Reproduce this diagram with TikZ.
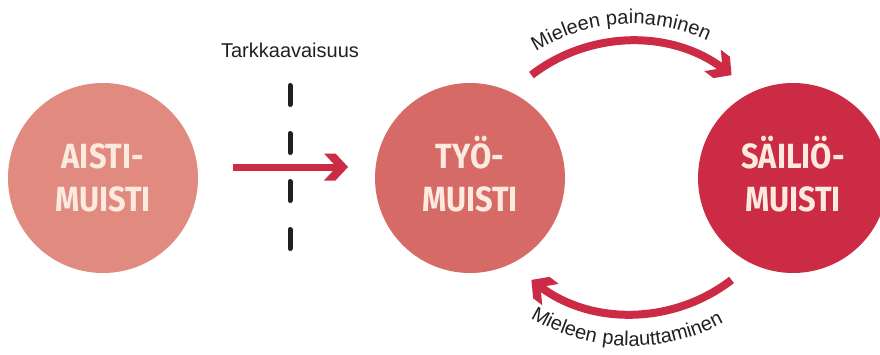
\documentclass[tikz,border=0pt]{standalone}
\usepackage{fontspec}
\setmainfont{Liberation Sans}
\newfontfamily\circfont{Fira Sans}[FakeStretch=0.88]
\newfontfamily\spacedfont{Liberation Sans}[LetterSpace=4.5]
\usetikzlibrary{calc,decorations.text}
\definecolor{caisti}{HTML}{E08A80}
\definecolor{ctyo}{HTML}{D66A66}
\definecolor{csail}{HTML}{CB2B45}
\definecolor{cred}{HTML}{CB2B45}
\definecolor{cream}{HTML}{FCEADF}
\definecolor{dark}{HTML}{231F20}
\pgfdeclarearrow{
  name = Chev,
  setup code = {
    \pgfarrowssettipend{0pt}
    \pgfarrowssetbackend{-24pt}
    \pgfarrowssetlineend{-10pt}
    \pgfarrowsupperhullpoint{0pt}{0pt}
    \pgfarrowsupperhullpoint{-24pt}{13.5pt}
  },
  drawing code = {
    \pgfpathmoveto{\pgfqpoint{0pt}{0pt}}
    \pgfpathlineto{\pgfqpoint{-12.5pt}{13.5pt}}
    \pgfpathlineto{\pgfqpoint{-24pt}{13.5pt}}
    \pgfpathlineto{\pgfqpoint{-11.5pt}{0pt}}
    \pgfpathlineto{\pgfqpoint{-24pt}{-13.5pt}}
    \pgfpathlineto{\pgfqpoint{-12.5pt}{-13.5pt}}
    \pgfpathclose
    \pgfusepathqfill
  }
}
\newcommand\lblfont{\fontsize{20}{24}\selectfont\color{dark}}
\newcommand\lblspaced{\spacedfont\fontsize{20}{24}\selectfont\color{dark}}
\tikzset{
  mem/.style={circle, minimum size=190pt, inner sep=0pt, outer sep=0pt, text=cream,
    font=\circfont\bfseries\fontsize{35}{43}\selectfont, align=center},
  straightarr/.style={draw=cred, fill=cred, line width=7pt, -Chev},
  curvarr/.style={draw=cred, line width=8pt, -Chev},
  dashline/.style={draw=dark, line width=5pt, line cap=round, dash pattern=on 19pt off 29pt},
  lbl/.style={font=\lblfont, text=dark}
}
\begin{document}
\begin{tikzpicture}[x=1pt,y=1pt]
\useasboundingbox (0,0) rectangle (880,354);
\clip (0,0) rectangle (880,354);
\node[mem, fill=caisti] (aisti) at (103,176) {AISTI-\\MUISTI};
\node[mem, fill=ctyo] (tyo) at (470,176) {TY\smash{Ö}-\\MUISTI};
\node[mem, fill=csail] (sailio) at (793,176) {S\smash{Ä}ILI\smash{Ö}-\\MUISTI};
\node[lbl, anchor=base] (tark) at (290,296) {Tarkkaavaisuus};
\coordinate (dtop) at (290,268.5);
\coordinate (dbot) at (290,105.5);
\draw[dashline] (dtop) -- (dbot);
\draw[straightarr, shorten <=35pt, shorten >=27pt] ([yshift=11pt]aisti.east) -- ([yshift=11pt]tyo.west);
\coordinate (topc) at ($(tyo.center)!0.5!(sailio.center)+(0,-27)$);
\coordinate (botc) at ($(tyo.center)!0.5!(sailio.center)+(0,28)$);
\draw[curvarr] ($(topc)+(127.6:164)$) arc[start angle=127.6, end angle=52.4, radius=164];
\draw[curvarr] ($(botc)+(-52.4:164)$) arc[start angle=-52.4, end angle=-127.6, radius=164];
\path[decorate, decoration={text along path, text align=center,
  text={|\lblfont|Mieleen painaminen}}]
  ($(topc)+(153.5:181)$) arc[start angle=153.5, end angle=33.5, radius=181];
\path[decorate, decoration={text along path, text align=center,
  text={|\lblspaced|Mieleen palauttaminen}}]
  ($(botc)+(-151.5:196)$) arc[start angle=-151.5, end angle=-31.5, radius=196];
\end{tikzpicture}
\end{document}
